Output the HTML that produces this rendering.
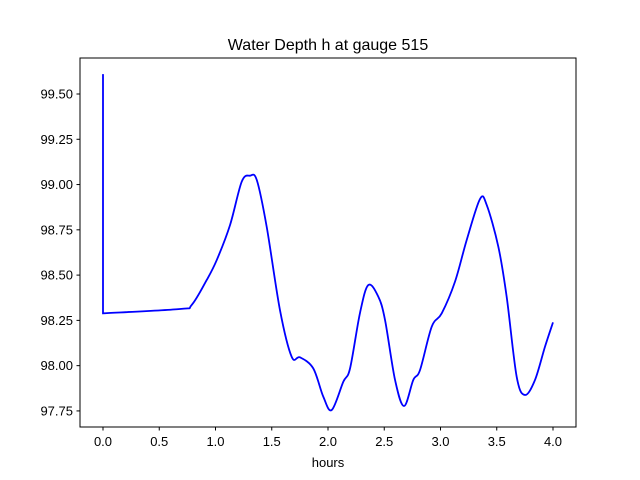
<!DOCTYPE html>
<html><head><meta charset="utf-8"><style>
body{margin:0;background:#fff;}
svg{display:block;font-family:"Liberation Sans","DejaVu Sans",sans-serif;}
</style></head><body>
<svg id="chart" width="640" height="480" xmlns="http://www.w3.org/2000/svg">
<rect width="640" height="480" fill="#fff"/>
<text x="328" y="50" text-anchor="middle" font-size="16">Water Depth h at gauge 515</text>
<g id="xt"></g>
<g id="yt"></g>
<path id="line" fill="none" stroke="#0000ff" stroke-width="1.8"/>
<rect x="80" y="58" width="496" height="369" fill="none" stroke="#000" stroke-width="1"/>
<text x="328" y="467" text-anchor="middle" font-size="13">hours</text>
</svg>
<script>
const hours = [0,0,0.684,0.788,0.922,1.011,1.129,1.233,1.307,1.367,1.455,1.573,1.677,1.751,1.869,1.958,2.033,2.136,2.196,2.284,2.358,2.447,2.507,2.596,2.676,2.758,2.818,2.922,3.011,3.129,3.233,3.351,3.411,3.514,3.588,3.677,3.751,3.84,3.929,4.0];
const depth = [99.61,98.289,98.313,98.335,98.473,98.583,98.776,99.016,99.049,99.025,98.767,98.307,98.049,98.046,97.985,97.829,97.755,97.911,97.985,98.29,98.445,98.381,98.252,97.921,97.777,97.921,97.976,98.215,98.289,98.464,98.694,98.92,98.887,98.657,98.381,97.939,97.838,97.921,98.105,98.239];
const xTicks = [0,0.5,1,1.5,2,2.5,3,3.5,4];
const xTickLabels = ["0.0","0.5","1.0","1.5","2.0","2.5","3.0","3.5","4.0"];
const yTicks = [97.75,98,98.25,98.5,98.75,99,99.25,99.5];
const yTickLabels = ["97.75","98.00","98.25","98.50","98.75","99.00","99.25","99.50"];
const NS="http://www.w3.org/2000/svg";
const X = h => 103 + h*112.5;
const Y = v => 94 + (99.5 - v)*181.1;
const xt=document.getElementById('xt'), yt=document.getElementById('yt');
xTicks.forEach((t,i)=>{
  const l=document.createElementNS(NS,'line');
  
  
  l.setAttribute('x1',X(t));l.setAttribute('x2',X(t));l.setAttribute('y1',427);l.setAttribute('y2',430.5);l.setAttribute('stroke','#000');
  xt.appendChild(l);
  const s=document.createElementNS(NS,'text');
  
  
  s.setAttribute('x',X(t));s.setAttribute('y',446);s.setAttribute('text-anchor','middle');s.setAttribute('font-size','13');
  s.textContent=xTickLabels[i];xt.appendChild(s);
});
yTicks.forEach((t,i)=>{
  const l=document.createElementNS(NS,'line');
  
  
  l.setAttribute('x1',76.5);l.setAttribute('x2',80);l.setAttribute('y1',Y(t));l.setAttribute('y2',Y(t));l.setAttribute('stroke','#000');
  yt.appendChild(l);
  const s=document.createElementNS(NS,'text');
  
  
  s.setAttribute('x',73);s.setAttribute('y',Y(t)+4.5);s.setAttribute('text-anchor','end');s.setAttribute('font-size','13');
  s.textContent=yTickLabels[i];yt.appendChild(s);
});
const P=hours.map((h,i)=>[X(h),Y(depth[i])]);
let d='M'+P[0][0]+','+P[0][1]+' L'+P[1][0]+','+P[1][1];
for(let i=1;i<P.length-1;i++){
  const p0=P[Math.max(1,i-1)],p1=P[i],p2=P[i+1],p3=P[Math.min(P.length-1,i+2)];
  const c1=[p1[0]+(p2[0]-p0[0])/6,p1[1]+(p2[1]-p0[1])/6];
  const c2=[p2[0]-(p3[0]-p1[0])/6,p2[1]-(p3[1]-p1[1])/6];
  d+=' C'+c1[0]+','+c1[1]+' '+c2[0]+','+c2[1]+' '+p2[0]+','+p2[1];
}
document.getElementById('line').setAttribute('d',d);
</script>
</body></html>
